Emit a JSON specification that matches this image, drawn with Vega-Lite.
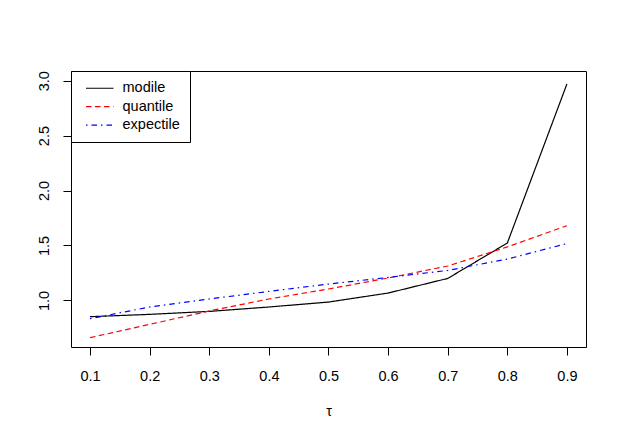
{
  "$schema": "https://vega.github.io/schema/vega-lite/v6.json",
  "width": 515,
  "height": 276,
  "autosize": {"type": "none"},
  "padding": {"left": 71, "top": 71, "right": 37, "bottom": 91},
  "background": "white",
  "config": {
    "view": {"stroke": "black", "strokeWidth": 1},
    "font": "Liberation Sans",
    "axis": {
      "grid": false,
      "domain": false,
      "tickSize": 8,
      "tickColor": "black",
      "tickWidth": 1,
      "labelFontSize": 14.5,
      "labelColor": "black",
      "labelFont": "Liberation Sans",
      "labelFlush": false,
      "labelOverlap": false,
      "titleFontSize": 14.5,
      "titleFontWeight": "normal",
      "titleColor": "black",
      "titleFont": "Liberation Sans"
    }
  },
  "data": {
    "values": [
      {"tau": 0.1, "value": 0.852, "type": "modile"},
      {"tau": 0.2, "value": 0.873, "type": "modile"},
      {"tau": 0.3, "value": 0.900, "type": "modile"},
      {"tau": 0.4, "value": 0.940, "type": "modile"},
      {"tau": 0.5, "value": 0.985, "type": "modile"},
      {"tau": 0.6, "value": 1.067, "type": "modile"},
      {"tau": 0.7, "value": 1.200, "type": "modile"},
      {"tau": 0.8, "value": 1.522, "type": "modile"},
      {"tau": 0.9, "value": 2.970, "type": "modile"},
      {"tau": 0.1, "value": 0.661, "type": "quantile"},
      {"tau": 0.2, "value": 0.782, "type": "quantile"},
      {"tau": 0.3, "value": 0.904, "type": "quantile"},
      {"tau": 0.4, "value": 1.013, "type": "quantile"},
      {"tau": 0.5, "value": 1.104, "type": "quantile"},
      {"tau": 0.6, "value": 1.204, "type": "quantile"},
      {"tau": 0.7, "value": 1.313, "type": "quantile"},
      {"tau": 0.8, "value": 1.487, "type": "quantile"},
      {"tau": 0.9, "value": 1.680, "type": "quantile"},
      {"tau": 0.1, "value": 0.834, "type": "expectile"},
      {"tau": 0.2, "value": 0.940, "type": "expectile"},
      {"tau": 0.3, "value": 1.013, "type": "expectile"},
      {"tau": 0.4, "value": 1.082, "type": "expectile"},
      {"tau": 0.5, "value": 1.149, "type": "expectile"},
      {"tau": 0.6, "value": 1.209, "type": "expectile"},
      {"tau": 0.7, "value": 1.273, "type": "expectile"},
      {"tau": 0.8, "value": 1.376, "type": "expectile"},
      {"tau": 0.9, "value": 1.518, "type": "expectile"}
    ]
  },
  "mark": {"type": "line", "strokeWidth": 1.2},
  "encoding": {
    "x": {
      "field": "tau",
      "type": "quantitative",
      "scale": {"domain": [0.068, 0.932], "nice": false, "zero": false},
      "axis": {
        "values": [0.1, 0.2, 0.3, 0.4, 0.5, 0.6, 0.7, 0.8, 0.9],
        "format": ".1f",
        "title": "τ",
        "labelPadding": 14.5,
        "labelBaseline": "top",
        "titleBaseline": "alphabetic",
        "titleY": 68
      }
    },
    "y": {
      "field": "value",
      "type": "quantitative",
      "scale": {"domain": [0.576, 3.088], "nice": false, "zero": false},
      "axis": {
        "values": [1.0, 1.5, 2.0, 2.5, 3.0],
        "format": ".1f",
        "title": null,
        "labelAngle": -90,
        "labelAlign": "center",
        "labelBaseline": "alphabetic",
        "labelPadding": 14.7
      }
    },
    "color": {
      "field": "type",
      "type": "nominal",
      "scale": {"domain": ["modile", "quantile", "expectile"], "range": ["black", "red", "blue"]},
      "legend": {
        "title": null,
        "orient": "none",
        "legendX": 0,
        "legendY": 0,
        "strokeColor": "black",
        "fillColor": "white",
        "padding": 10,
        "cornerRadius": 0,
        "symbolType": "M-2.75,0H2.75",
        "symbolSize": 100,
        "symbolStrokeWidth": 1.2,
        "symbolOffset": 11.5,
        "labelOffset": 15.5,
        "labelFontSize": 14.5,
        "labelColor": "black",
        "labelFont": "Liberation Sans",
        "rowPadding": 3.4
      }
    },
    "strokeDash": {
      "field": "type",
      "type": "nominal",
      "scale": {"domain": ["modile", "quantile", "expectile"], "range": [[1, 0], [5.5, 3.5], [1.5, 4, 5.5, 4]]},
      "legend": {
        "title": null,
        "orient": "none",
        "legendX": 0,
        "legendY": 0,
        "strokeColor": "black",
        "fillColor": "white",
        "padding": 10,
        "cornerRadius": 0,
        "symbolType": "M-2.75,0H2.75",
        "symbolSize": 100,
        "symbolStrokeWidth": 1.2,
        "symbolOffset": 11.5,
        "labelOffset": 15.5,
        "labelFontSize": 14.5,
        "labelColor": "black",
        "labelFont": "Liberation Sans",
        "rowPadding": 3.4
      }
    }
  }
}
